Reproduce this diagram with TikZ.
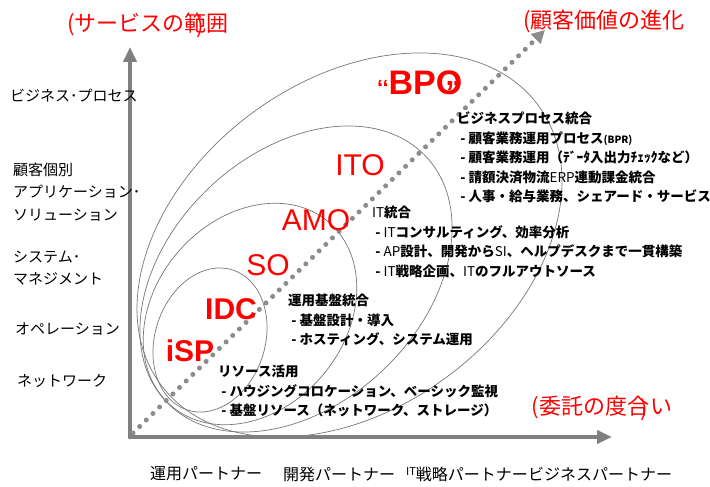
\documentclass[tikz,border=0pt]{standalone}
\usepackage{fontspec}
\setmainfont{Liberation Sans}
\newfontfamily\jp{Noto Sans CJK JP}
\usetikzlibrary{arrows.meta}
\definecolor{axgray}{HTML}{808080}
\definecolor{ellgray}{HTML}{777777}
\definecolor{dotgray}{HTML}{8C8C8C}
\begin{document}
\begin{tikzpicture}[x=1pt,y=-1pt,
  axis/.style={line width=4.5pt,draw=axgray,line cap=round,-{Triangle[length=15pt,width=13pt]}},
  dots/.style={draw=dotgray,line width=5pt,line cap=round,dash pattern=on 0pt off 9.3pt,-{Triangle[length=13pt,width=13pt]}},
  ell/.style={draw=ellgray,line width=0.7pt},
  title/.style={text=red,font=\jp\fontsize{22}{22}\selectfont,inner sep=0pt},
  acr/.style={text=red,font=\fontsize{30}{30}\selectfont,inner sep=0pt},
  acrb/.style={text=red,font=\bfseries\fontsize{30}{30}\selectfont,inner sep=0pt},
  ylab/.style={font=\jp\fontsize{15}{22.5}\selectfont,align=left,anchor=west,inner sep=0pt},
  xlab/.style={font=\jp\fontsize{16}{16}\selectfont,inner sep=0pt},
  blk/.style={font=\jp\bfseries\fontsize{13.5}{19.5}\selectfont,align=left,anchor=north west,inner sep=0pt}]
\useasboundingbox[fill=white] (0,0) rectangle (710,487);
% ellipses
\draw[ell,rotate around={72:(210,340)}] (210,340) ellipse [x radius=73.6,y radius=55];
\draw[ell,rotate around={49.4:(250,314)}] (250,314) ellipse [x radius=121,y radius=95];
\draw[ell,rotate around={43.3:(296,279)}] (296,279) ellipse [x radius=178.6,y radius=126];
\draw[ell,rotate around={36.5:(349.5,245)}] (349.5,245) ellipse [x radius=234.8,y radius=164];
% axes
\coordinate (O) at (130,437);
\coordinate (ytip) at (130,47);
\coordinate (xtip) at (612,437);
\coordinate (dstart) at (133,433);
\coordinate (dtip) at (545,30);
\draw[axis] (O) -- (ytip);
\draw[axis] (O) -- (xtip);
\draw[dots] (dstart) -- (dtip);
% titles
\node[title] (t1) at (148,25) {(サービスの範\kern-0.45em\raisebox{-2pt}{)}\kern0.1em 囲};
\node[title] (t2) at (604,21) {(顧客価値の進化};
\node[title] (t3) at (602,408) {(委託の度合\kern-0.4em\raisebox{-2pt}{)}\kern0.1em い};
% acronyms
\node[acrb] (isp) at (190,351) {iSP};
\node[acrb] (idc) at (231,309) {IDC};
\node[acr] (so) at (268,265) {SO};
\node[acr] (amo) at (316,220) {AMO};
\node[acr] (ito) at (360,165) {ITO};
\node[acrb,anchor=west,font=\bfseries\fontsize{34}{34}\selectfont] (bpo) at (377,87)
  {\raisebox{-1pt}{\fontsize{22}{22}\selectfont ‘‘}BPO\kern-17pt\raisebox{-9pt}{\fontsize{32}{32}\selectfont ”}};
% y labels
\node[ylab] (y1) at (10,96) {ビジネス･プロセス};
\node[ylab] (y2) at (13,192) {顧客個別\\アプリケーション･\\ソリューション};
\node[ylab] (y3) at (13,268) {システム･\\マネジメント};
\node[ylab] (y4) at (15,329) {オペレーション};
\node[ylab] (y5) at (17,381) {ネットワーク};
% x labels
\node[xlab] (x1) at (206,474) {運用パートナー};
\node[xlab] (x2) at (339,474) {開発パートナー};
\node[xlab] (x3) at (467,474) {\raisebox{5pt}{\fontsize{11}{11}\selectfont IT}戦略パートナー};
\node[xlab] (x4) at (600,474) {ビジネスパートナー};
% text blocks
\node[blk] (b1) at (457,112) {ビジネスプロセス統合\\
\ - 顧客業務運用プロセス{\fontsize{10}{10}\selectfont (BPR)}\\
\ - 顧客業務運用（ﾃﾞｰﾀ入出力ﾁｪｯｸなど）\\
\ - 請額決済物流{\mdseries ERP}連動課金統合\\
\ - 人事・給与業務、シェアード・サービス};
\node[blk] (b2) at (372,206) {{\mdseries IT}統合\\
\ - {\mdseries IT}コンサルティング、効率分析\\
\ - {\mdseries AP}設計、開発から{\mdseries SI}、ヘルプデスクまで一貫構築\\
\ - {\mdseries IT}戦略企画、{\mdseries IT}のフルアウトソース};
\node[blk] (b3) at (288,294) {運用基盤統合\\
\ - 基盤設計・導入\\
\ - ホスティング、システム運用};
\node[blk] (b4) at (218,365) {リソース活用\\
\ - ハウジングコロケーション、ベーシック監視\\
\ - 基盤リソース（ネットワーク、ストレージ）};
\end{tikzpicture}
\end{document}
